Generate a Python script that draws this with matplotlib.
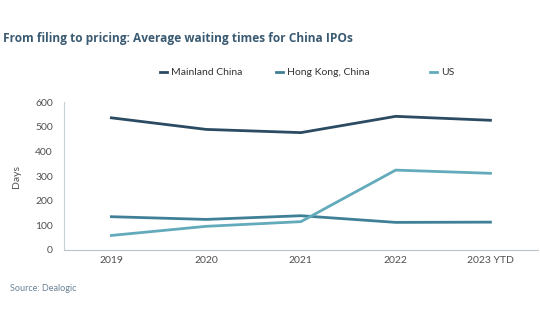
import matplotlib.pyplot as plt
from matplotlib.lines import Line2D

plt.rcParams['font.family'] = ['Lato', 'DejaVu Sans']

years = ["2019", "2020", "2021", "2022", "2023 YTD"]
series_names = ["Mainland China", "Hong Kong, China", "US"]
mainland = [536, 489, 476, 542, 526]
hong_kong = [135, 124, 139, 112, 113]
us = [59, 96, 115, 324, 311]
colors = ['#2b4b63', '#3f8097', '#63aabb']

fig = plt.figure(figsize=(5.4, 3.34), dpi=100)
ax = fig.add_axes([0.1185, 0.2515, 0.8775, 0.443])

x = list(range(len(years)))
for vals, c, name in zip([mainland, hong_kong, us], colors, series_names):
    ax.plot(x, vals, color=c, lw=2, label=name)

ax.set_xlim(-0.5, 4.5)
ax.set_ylim(0, 600)
ax.set_yticks(range(0, 601, 100))
ax.set_xticks(x)
ax.set_xticklabels(years)
ax.tick_params(length=0, labelsize=7.5, colors='#505050')
ax.tick_params(axis='y', pad=8)
ax.tick_params(axis='x', pad=4)
for s in ['top', 'right']:
    ax.spines[s].set_visible(False)
ax.spines['left'].set_color('#c8d0d6')
ax.spines['bottom'].set_color('#b8c2ca')
ax.set_ylabel('Days', fontsize=7.5, color='#505050', labelpad=10)

fig.text(0.006, 0.875, 'From filing to pricing: Average waiting times for China IPOs',
         fontsize=8.6, fontweight='bold', color='#3a5a72', family=['Open Sans', 'DejaVu Sans'])
fig.text(0.018, 0.13, 'Source: Dealogic', fontsize=6.5, color='#6a8296')

# one small legend per series, placed like the original
for xpos, c, name in zip([0.296, 0.511, 0.796], colors, series_names):
    h = Line2D([], [], color=c, lw=2)
    fig.legend([h], [name], loc='center left', bbox_to_anchor=(xpos, 0.782),
               frameon=False, fontsize=7.5, handlelength=0.7, handletextpad=0.4,
               borderpad=0, borderaxespad=0, labelcolor='#333333')

fig.savefig('out.png', dpi=100, facecolor='white')
